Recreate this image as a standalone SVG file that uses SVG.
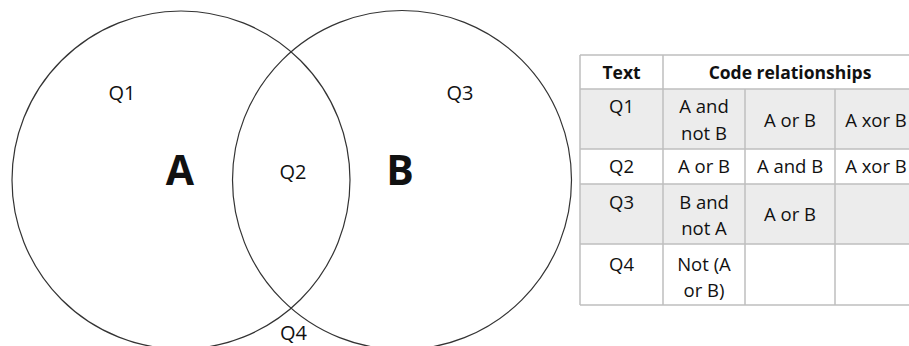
<svg xmlns="http://www.w3.org/2000/svg" width="909" height="346" viewBox="0 0 909 346">
  <style>
    .ring { fill: none; stroke: #333; stroke-width: 1.2; }
    .lbl { font-family: "Open Sans", "Liberation Sans", sans-serif; font-size: 20px; fill: #111; text-anchor: middle; }
    .big { font-family: "Open Sans", "Liberation Sans", sans-serif; font-size: 41px; font-weight: bold; fill: #111; text-anchor: middle; }
    .cell { font-family: "Open Sans", "Liberation Sans", sans-serif; font-size: 18.5px; fill: #111; text-anchor: middle; }
    .head { font-family: "Open Sans", "Liberation Sans", sans-serif; font-size: 17.5px; font-weight: bold; fill: #111; text-anchor: middle; }
    .shade { fill: #ececec; }
    .plain { fill: #ffffff; }
    .grid { stroke: #bfbfbf; stroke-width: 1.5; fill: none; }
  </style>

  <rect width="909" height="346" fill="#ffffff"/>

  <!-- Venn diagram -->
  <g id="setA">
    <circle class="ring" cx="181" cy="180" r="169"/>
    <text class="big" x="180" y="185">A</text>
  </g>
  <g id="setB">
    <circle class="ring" cx="402" cy="180" r="169.5"/>
    <text class="big" x="400" y="185">B</text>
  </g>
  <g id="regions">
    <text class="lbl" x="122" y="100">Q1</text>
    <text class="lbl" x="293" y="179">Q2</text>
    <text class="lbl" x="460" y="100">Q3</text>
    <text class="lbl" x="293.5" y="340">Q4</text>
  </g>

  <!-- Relationship table -->
  <g id="table">
    <rect class="plain" x="580" y="55" width="340" height="34"/>
    <rect class="shade" x="580" y="89" width="340" height="60"/>
    <rect class="plain" x="580" y="149" width="340" height="35"/>
    <rect class="shade" x="580" y="184" width="340" height="60"/>
    <rect class="plain" x="580" y="244" width="340" height="61"/>

    <path class="grid" d="M580 55 H920 M580 89 H920 M580 149 H920 M580 184 H920 M580 244 H920 M580 305 H920
                          M580 55 V305 M663 55 V305 M745 89 V305 M835 89 V305"/>

    <text class="head" x="621.5" y="79">Text</text>
    <text class="head" x="790" y="79">Code relationships</text>

    <text class="cell" x="621.5" y="113">Q1</text>
    <text class="cell" x="704" y="113">A and</text>
    <text class="cell" x="704" y="140">not B</text>
    <text class="cell" x="790" y="127">A or B</text>
    <text class="cell" x="876" y="127">A xor B</text>

    <text class="cell" x="621.5" y="173">Q2</text>
    <text class="cell" x="704" y="173">A or B</text>
    <text class="cell" x="790" y="173">A and B</text>
    <text class="cell" x="876" y="173">A xor B</text>

    <text class="cell" x="621.5" y="209">Q3</text>
    <text class="cell" x="704" y="209">B and</text>
    <text class="cell" x="704" y="235">not A</text>
    <text class="cell" x="790" y="221">A or B</text>

    <text class="cell" x="621.5" y="271">Q4</text>
    <text class="cell" x="704" y="271">Not (A</text>
    <text class="cell" x="704" y="297">or B)</text>
  </g>
</svg>
